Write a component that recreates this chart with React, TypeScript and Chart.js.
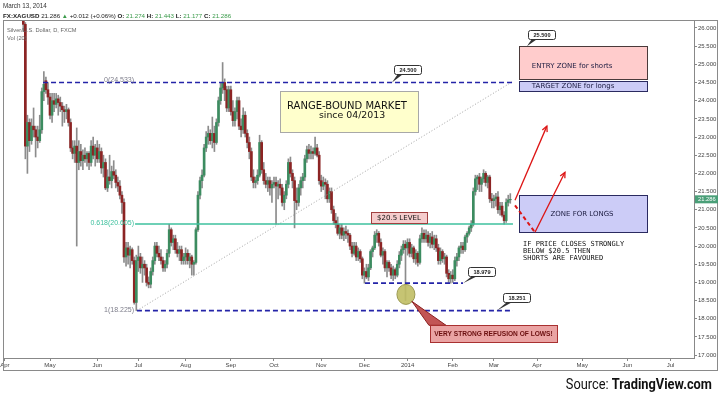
import React, { useEffect, useRef } from "react";
import { Chart, registerables } from "chart.js";

Chart.register(...registerables);

// ---- Daily OHLC, FX:XAGUSD (one entry per trading day, Apr 2013 - Mar 13 2014) ----
const opens = [
  28.30,28.10,27.85,27.20,27.45,27.40,27.50,27.60,27.35,27.10,
  26.10,22.75,23.40,22.90,23.30,23.20,23.00,22.90,23.20,24.25,
  24.55,24.30,24.10,23.60,24.00,23.90,24.05,23.95,23.85,23.75,
  23.70,23.75,23.40,22.70,22.55,22.75,22.30,22.60,22.35,22.50,
  22.40,22.55,22.30,22.75,22.50,22.70,22.40,22.60,22.15,22.30,
  21.60,21.90,21.80,22.05,21.95,21.75,21.65,21.40,21.20,19.70,
  19.95,19.75,19.90,19.60,18.45,19.60,19.70,19.40,19.50,19.40,
  19.00,18.95,19.30,19.60,20.00,
  19.80,19.70,19.60,19.40,
  19.50,19.80,20.45,20.10,20.20,19.90,19.80,19.90,19.60,19.70,
  19.80,19.60,19.70,19.50,19.55,20.45,21.40,21.80,21.95,22.70,
  23.00,23.10,22.90,23.10,22.85,23.40,24.00,24.35,24.50,24.30,
  23.80,24.30,23.70,23.45,23.70,24.00,23.30,23.20,23.60,23.10,
  22.85,22.60,21.90,21.75,21.80,21.95,22.85,22.10,21.80,21.70,
  21.80,21.60,21.70,21.75,21.65,21.70,21.60,21.20,21.40,21.70,
  22.30,22.00,21.80,21.25,21.20,21.60,21.80,21.90,22.40,22.65,
  22.55,22.60,22.55,22.70,22.50,21.80,21.65,
  21.75,21.70,
  21.30,21.50,21.00,20.70,20.60,20.35,20.50,20.30,20.40,20.35,
  20.30,20.00,19.80,20.00,19.70,19.85,19.65,19.20,19.30,19.15,
  19.40,19.85,19.95,20.30,20.35,20.10,19.75,19.85,19.40,19.55,
  19.40,19.20,19.35,19.20,19.50,19.75,19.90,20.05,19.95,20.10,
  19.80,19.95,19.65,19.80,19.55,20.20,20.35,20.20,20.30,20.10,
  20.25,20.05,20.20,19.95,19.60,19.85,19.65,19.70,19.25,19.10,
  19.20,19.10,19.60,19.70,19.95,20.00,19.90,20.25,20.35,20.50,
  20.60,21.50,
  21.85,21.90,21.70,21.85,22.00,21.75,21.90,
  21.30,21.25,21.30,21.35,21.00,21.10,20.85,20.70,21.20,21.274,
];
const highs = [
  28.45,28.25,27.95,27.55,27.85,27.65,27.80,27.85,27.45,27.20,
  26.15,23.60,23.50,23.50,23.80,23.30,23.30,23.60,24.35,24.80,
  24.65,24.50,24.20,24.20,24.20,24.20,24.15,24.10,23.95,23.85,
  23.90,23.80,23.50,22.90,22.90,23.25,22.90,22.80,22.65,22.70,
  22.60,22.60,22.90,23.00,22.80,22.90,22.80,22.70,22.50,22.40,
  22.10,22.50,22.20,22.35,22.10,21.90,21.80,21.50,21.30,20.10,
  20.10,20.00,19.95,19.70,19.75,20.00,19.80,19.70,19.60,19.50,
  19.15,19.40,19.70,20.10,20.10,
  20.00,19.90,19.70,19.60,
  19.90,20.60,20.50,20.30,20.30,20.10,20.00,20.00,19.80,19.95,
  19.90,19.80,19.75,19.60,20.50,21.50,21.90,22.10,22.80,23.15,
  23.30,23.20,23.55,23.30,23.50,24.10,24.50,25.05,24.60,24.40,
  24.40,24.40,24.00,23.80,24.10,24.10,23.50,23.80,23.70,23.20,
  23.00,22.70,22.10,21.90,22.10,23.05,22.90,22.30,22.00,21.90,
  21.90,21.80,21.90,21.90,21.80,21.85,21.70,21.50,21.80,22.40,
  22.45,22.10,21.90,21.60,21.70,21.90,22.00,22.50,22.75,22.80,
  22.75,22.70,23.00,22.80,22.60,21.95,21.90,
  21.85,21.80,
  21.60,21.60,21.10,20.90,20.80,20.60,20.60,20.50,20.55,20.45,
  20.35,20.10,20.10,20.10,19.95,19.90,19.70,19.40,19.50,19.50,
  19.90,20.00,20.40,20.45,20.40,20.20,19.95,19.90,19.60,19.60,
  19.50,19.45,19.40,19.60,19.85,20.00,20.15,20.15,20.20,20.20,
  20.05,20.00,19.90,19.85,20.30,20.50,20.45,20.45,20.40,20.35,
  20.40,20.30,20.30,20.05,19.95,19.90,19.80,19.75,19.35,19.30,
  19.35,19.70,19.80,20.00,20.10,20.10,20.30,20.40,20.55,20.70,
  21.60,21.95,
  21.95,22.00,21.90,22.10,22.05,21.95,21.95,
  21.45,21.40,21.45,21.50,21.20,21.20,20.95,21.30,21.40,21.443,
];
const lows = [
  27.95,27.70,27.10,26.90,26.95,27.20,27.30,27.20,26.90,25.90,
  22.40,22.00,22.60,22.80,23.00,22.45,22.70,22.85,23.10,24.00,
  24.20,23.90,23.50,23.40,23.70,23.80,23.60,23.70,23.30,23.40,
  23.50,23.30,22.60,22.40,22.30,20.00,22.10,22.20,22.10,22.30,
  22.20,22.10,22.20,22.40,22.20,22.30,22.30,22.00,21.90,21.55,
  21.50,21.70,21.60,21.85,21.60,21.50,21.30,20.90,19.55,19.45,
  19.50,19.40,19.50,18.40,18.225,19.30,19.25,19.00,19.20,18.90,
  18.85,18.85,19.20,19.50,19.70,
  19.60,19.50,19.30,19.30,
  19.40,19.70,20.00,19.90,19.80,19.70,19.60,19.50,19.50,19.50,
  19.50,19.40,19.20,19.20,19.50,20.40,21.30,21.60,21.90,22.60,
  22.80,22.80,22.70,22.60,22.80,23.30,23.90,24.20,24.00,23.70,
  23.70,23.60,23.30,23.30,23.50,23.20,23.00,23.10,23.00,22.70,
  22.40,21.80,21.60,21.60,21.70,21.90,22.00,21.70,21.60,21.50,
  21.40,21.20,21.60,20.60,21.30,21.40,21.10,21.00,21.30,21.60,
  21.90,21.60,20.50,21.00,21.10,21.40,21.60,21.80,22.30,22.40,
  22.40,22.40,22.50,22.45,21.70,21.50,21.55,
  21.30,21.20,
  21.20,20.90,20.60,20.50,20.30,20.20,20.20,20.15,20.20,20.10,
  19.90,19.70,19.75,19.60,19.60,19.55,19.10,18.979,19.10,19.05,
  19.35,19.70,19.90,20.10,20.00,19.70,19.50,19.30,19.15,19.30,
  19.10,19.05,19.10,19.15,19.40,19.60,19.80,18.50,19.75,19.70,
  19.70,19.55,19.50,19.45,19.50,20.10,20.10,20.10,20.00,19.95,
  19.95,19.90,19.85,19.50,19.50,19.55,19.50,19.15,19.00,18.979,
  19.00,19.05,19.45,19.60,19.80,19.80,19.85,20.10,20.30,20.40,
  20.55,21.40,
  21.55,21.50,21.50,21.75,21.65,21.60,21.20,
  21.05,21.05,21.10,20.90,20.85,20.80,20.60,20.65,21.10,21.177,
];
const closes = [
  28.10,27.85,27.20,27.45,27.40,27.50,27.60,27.35,27.10,26.10,
  22.75,23.40,22.90,23.30,23.20,23.00,22.90,23.20,24.25,24.45,
  24.30,24.10,23.60,24.00,23.90,24.05,23.95,23.85,23.75,23.70,
  23.75,23.40,22.70,22.55,22.75,22.30,22.60,22.35,22.50,22.40,
  22.55,22.30,22.75,22.50,22.70,22.40,22.60,22.15,22.30,21.60,
  21.90,21.80,22.05,21.95,21.75,21.65,21.40,21.20,19.70,19.95,
  19.75,19.90,19.60,18.45,19.60,19.70,19.40,19.50,19.40,19.00,
  18.95,19.30,19.60,20.00,19.80,
  19.70,19.60,19.40,19.50,
  19.80,20.45,20.10,20.20,19.90,19.80,19.90,19.60,19.70,19.80,
  19.60,19.70,19.50,19.55,20.45,21.40,21.80,21.95,22.70,23.00,
  23.10,22.90,23.10,22.85,23.40,24.00,24.35,24.50,24.30,23.80,
  24.30,23.70,23.45,23.70,24.00,23.30,23.20,23.60,23.10,22.85,
  22.60,21.90,21.75,21.80,21.95,22.85,22.10,21.80,21.70,21.80,
  21.60,21.70,21.75,21.65,21.70,21.60,21.20,21.40,21.70,22.30,
  22.00,21.80,21.25,21.20,21.60,21.80,21.90,22.40,22.65,22.55,
  22.60,22.55,22.70,22.50,21.80,21.65,21.75,
  21.70,21.30,
  21.50,21.00,20.70,20.60,20.35,20.50,20.30,20.40,20.35,20.30,
  20.00,19.80,20.00,19.70,19.85,19.65,19.20,19.30,19.15,19.40,
  19.85,19.95,20.30,20.35,20.10,19.75,19.85,19.40,19.55,19.40,
  19.20,19.35,19.20,19.50,19.75,19.90,20.05,19.95,20.10,19.80,
  19.95,19.65,19.80,19.55,20.20,20.35,20.20,20.30,20.10,20.25,
  20.05,20.20,19.95,19.60,19.85,19.65,19.70,19.25,19.10,19.20,
  19.10,19.60,19.70,19.95,20.00,19.90,20.25,20.35,20.50,20.60,
  21.50,21.85,
  21.90,21.70,21.85,22.00,21.75,21.90,21.30,
  21.25,21.30,21.35,21.00,21.10,20.85,20.70,21.20,21.27,21.286,
];

// ---- Axes ----
const monthTickIndex = [0, 22, 45, 65, 88, 110, 131, 154, 175, 196, 218, 238, 259, 281, 303, 324];
const monthTickLabels = ["Apr", "May", "Jun", "Jul", "Aug", "Sep", "Oct", "Nov", "Dec", "2014", "Feb", "Mar", "Apr", "May", "Jun", "Jul"];
const priceTicks = [17, 17.5, 18, 18.5, 19, 19.5, 20, 20.5, 21, 21.5, 22, 22.5, 23, 23.5, 24, 24.5, 25, 25.5, 26];

// ---- Drawn levels (price values) ----
const fibLevels = [24.533, 20.605, 18.225];
const fibRatios = ["0", "0.618", "1"];
const rangeTopLevel = 24.5;
const supportLevel = 18.979;
const entryZone = [25.5, 24.6];
const targetZone = [24.55, 24.27];
const longZone = [21.4, 20.38];

const callouts = [
  { text: "24.500", bx: 196, by: 24.87, ax: 188.4, ay: 24.5 },
  { text: "25.500", bx: 261.1, by: 25.83, ax: 254.1, ay: 25.5 },
  { text: "18.979", bx: 232.2, by: 19.31, ax: 223, ay: 18.979 },
  { text: "18.251", bx: 249, by: 18.58, ax: 239.5, ay: 18.225 },
];

const arrows = [
  { from: [248.3, 21.12], to: [258, 20.38], dashed: true },
  { from: [258, 20.38], to: [272.6, 22.03], dashed: false },
  { from: [248.3, 21.26], to: [263.8, 23.3], dashed: false },
];

const GREEN = "#3c8c60";
const RED = "#8c2424";
const WICK = "#8c8c8c";

const annotationPlugin = {
  id: "tvAnnotations",
  afterDatasetsDraw(chart: any) {
    const { ctx } = chart;
    const xs = chart.scales.x;
    const ys = chart.scales.y;
    const X = (v: number) => xs.getPixelForValue(v);
    const Y = (v: number) => ys.getPixelForValue(v);
    const seg = (x1: number, y1: number, x2: number, y2: number) => {
      ctx.beginPath();
      ctx.moveTo(x1, y1);
      ctx.lineTo(x2, y2);
      ctx.stroke();
    };
    const rect = (i1: number, v1: number, i2: number, v2: number, fill: string, stroke: string) => {
      const l = Math.round(X(i1)) + 0.5, r = Math.round(X(i2)) + 0.5;
      const t = Math.round(Y(v1)) + 0.5, b = Math.round(Y(v2)) + 0.5;
      ctx.fillStyle = fill;
      ctx.fillRect(l, t, r - l, b - t);
      ctx.strokeStyle = stroke;
      ctx.lineWidth = 1;
      ctx.strokeRect(l, t, r - l, b - t);
    };
    ctx.save();

    // Fibonacci diagonal
    ctx.strokeStyle = "#a0a0a0";
    ctx.lineWidth = 1;
    ctx.setLineDash([1, 2]);
    seg(X(64.3), Y(fibLevels[2]), X(247.3), Y(fibLevels[0]));
    ctx.setLineDash([]);

    // 0.618 level
    ctx.strokeStyle = "#3ec09e";
    ctx.lineWidth = 1.4;
    seg(X(63.4), Y(fibLevels[1]), X(247.3), Y(fibLevels[1]));

    // blue dashed levels
    ctx.strokeStyle = "#2424a8";
    ctx.lineWidth = 1.7;
    ctx.setLineDash([5, 3]);
    seg(X(18.6), Y(rangeTopLevel), X(247.3), Y(rangeTopLevel));
    seg(X(64.3), Y(fibLevels[2]), X(247.3), Y(fibLevels[2]));
    seg(X(175.3), Y(supportLevel), X(223), Y(supportLevel));
    ctx.setLineDash([]);

    // fib labels
    ctx.font = '7px "Liberation Sans"';
    ctx.textAlign = "right";
    ctx.textBaseline = "middle";
    fibLevels.forEach((lv, k) => {
      ctx.fillStyle = k === 1 ? "#3ec09e" : "#7d7d8a";
      ctx.fillText(`${fibRatios[k]}(${lv.toFixed(3)})`, X(62.9), Y(lv) - 1);
    });

    // zones
    rect(250.2, entryZone[0], 312.5, entryZone[1], "#ffcccc", "#4a3a3a");
    rect(250.2, targetZone[0], 312.5, targetZone[1], "#ccccf7", "#2a2a60");
    rect(250.2, longZone[0], 312.5, longZone[1], "#ccccf7", "#2a2a60");
    ctx.fillStyle = "#1c1c40";
    ctx.font = '7px "DejaVu Sans"';
    ctx.textAlign = "left";
    ctx.fillText("ENTRY ZONE for shorts", X(256.5), Y(24.95));
    ctx.fillText("TARGET ZONE for longs", X(256.5), Y(24.40));
    ctx.textAlign = "center";
    ctx.fillText("ZONE FOR LONGS", X(280.9), Y(20.88));

    // note text
    ctx.fillStyle = "#111";
    ctx.font = '7px "DejaVu Sans Mono"';
    ctx.textAlign = "left";
    ctx.fillText("IF PRICE CLOSES STRONGLY", X(252.2), Y(20.05));
    ctx.fillText("BELOW $20.5 THEN", X(252.2), Y(19.86));
    ctx.fillText("SHORTS ARE FAVOURED", X(252.2), Y(19.67));

    // red arrows
    ctx.strokeStyle = "#dd1515";
    arrows.forEach((a) => {
      const x1 = X(a.from[0]), y1 = Y(a.from[1]), x2 = X(a.to[0]), y2 = Y(a.to[1]);
      ctx.lineWidth = a.dashed ? 2 : 1.3;
      ctx.setLineDash(a.dashed ? [4, 3] : []);
      seg(x1, y1, x2, y2);
      ctx.setLineDash([]);
      if (!a.dashed) {
        const ang = Math.atan2(y2 - y1, x2 - x1);
        const s = 6;
        ctx.beginPath();
        ctx.moveTo(x2 - s * Math.cos(ang - 0.45), y2 - s * Math.sin(ang - 0.45));
        ctx.lineTo(x2, y2);
        ctx.lineTo(x2 - s * Math.cos(ang + 0.45), y2 - s * Math.sin(ang + 0.45));
        ctx.stroke();
      }
    });

    // range-bound box
    rect(133.9, 24.26, 201.1, 23.14, "#ffffcc", "#a8a8a8");
    ctx.fillStyle = "#111";
    ctx.textAlign = "center";
    ctx.font = '10px "DejaVu Sans"';
    ctx.fillText("RANGE-BOUND MARKET", X(166.5), Y(23.85));
    ctx.font = '9.4px "DejaVu Sans"';
    ctx.fillText("since 04/2013", X(169), Y(23.58));

    // $20.5 level box
    rect(178.2, 20.93, 205.4, 20.63, "#f5cccc", "#a04040");
    ctx.fillStyle = "#111";
    ctx.font = '7px "DejaVu Sans"';
    ctx.fillText("$20.5 LEVEL", X(191.8), Y(20.78) + 0.5);

    // callouts
    callouts.forEach((c) => {
      const cx = X(c.bx), cy = Y(c.by), ax = X(c.ax), ay = Y(c.ay);
      const w = 27, h = 9;
      const l = Math.round(cx - w / 2) + 0.5, t = Math.round(cy - h / 2) + 0.5;
      ctx.fillStyle = "#333";
      ctx.beginPath();
      ctx.moveTo(l + 3, t + h);
      ctx.lineTo(l + 8, t + h);
      ctx.lineTo(ax, ay);
      ctx.closePath();
      ctx.fill();
      ctx.beginPath();
      ctx.roundRect(l, t, w, h, 2);
      ctx.fillStyle = "#fff";
      ctx.fill();
      ctx.strokeStyle = "#333";
      ctx.lineWidth = 1;
      ctx.stroke();
      ctx.fillStyle = "#222";
      ctx.font = 'bold 5.6px "Liberation Sans"';
      ctx.textAlign = "center";
      ctx.fillText(c.text, l + w / 2, t + h / 2 + 0.5);
    });

    // ellipse on the wick
    ctx.beginPath();
    ctx.ellipse(X(195.2), Y(18.67), 9, 10, 0, 0, Math.PI * 2);
    ctx.fillStyle = "rgba(192,190,100,0.9)";
    ctx.fill();
    ctx.strokeStyle = "#9a9850";
    ctx.lineWidth = 1;
    ctx.stroke();

    // wedge + red callout
    ctx.beginPath();
    ctx.moveTo(X(198.1), Y(18.48));
    ctx.lineTo(X(206.4), Y(17.82));
    ctx.lineTo(X(214.7), Y(17.82));
    ctx.closePath();
    ctx.fillStyle = "#c25555";
    ctx.fill();
    ctx.strokeStyle = "#8a2020";
    ctx.stroke();
    rect(206.9, 17.82, 268.7, 17.35, "#eaa3a3", "#a83030");
    ctx.fillStyle = "#6a0e0e";
    ctx.font = 'bold 6.6px "Liberation Sans"';
    ctx.textAlign = "center";
    ctx.fillText("VERY STRONG REFUSION OF LOWS!", X(237.8), Y(17.585) + 0.5);

    ctx.restore();
  },
  afterDraw(chart: any) {
    const { ctx, chartArea } = chart;
    const ys = chart.scales.y;
    ctx.save();
    ctx.strokeStyle = "#8a8a8a";
    ctx.lineWidth = 1;
    ctx.strokeRect(chartArea.left + 0.5, chartArea.top + 0.5, chartArea.right - chartArea.left + 23, chartArea.bottom - chartArea.top + 12);
    const last = closes[closes.length - 1];
    const py = ys.getPixelForValue(last);
    ctx.fillStyle = "#4a9f78";
    ctx.fillRect(chartArea.right + 1, py - 4, 23, 8);
    ctx.fillStyle = "#fff";
    ctx.font = '5.8px "Liberation Sans"';
    ctx.textAlign = "left";
    ctx.textBaseline = "middle";
    ctx.fillText(last.toFixed(3), chartArea.right + 4, py + 0.5);
    ctx.restore();
  },
};

export default function App() {
  const ref = useRef<HTMLCanvasElement>(null);

  useEffect(() => {
    if (!ref.current) return;
    Chart.defaults.font.family = '"Liberation Sans", Arial, sans-serif';
    const wickData = lows.map((l, i) => ({ x: i, y: [l, highs[i]] }));
    const bodyData = opens.map((o, i) => ({ x: i, y: [o, closes[i]] }));
    const bodyColors = opens.map((o, i) => (closes[i] >= o ? GREEN : RED));
    const chart = new Chart(ref.current, {
      type: "bar",
      data: {
        datasets: [
          { label: "wick", data: wickData as any, backgroundColor: WICK, barThickness: 1, grouped: false, clip: 0, order: 2 } as any,
          { label: "body", data: bodyData as any, backgroundColor: bodyColors, barThickness: 2, grouped: false, clip: 0, order: 1 } as any,
        ],
      },
      options: {
        animation: false,
        responsive: false,
        layout: { padding: { left: 3, top: 20, right: 2, bottom: 27 } },
        plugins: { legend: { display: false }, tooltip: { enabled: false } },
        scales: {
          x: {
            type: "linear",
            min: -0.88,
            max: 335.4,
            offset: false,
            grid: { display: true, drawOnChartArea: false, offset: false, tickLength: 3, color: "#888" },
            border: { display: true, color: "#888" },
            ticks: {
              autoSkip: false,
              maxRotation: 0,
              minRotation: 0,
              padding: 1,
              color: "#444",
              font: { size: 6 },
              callback: (v: any) => {
                const k = monthTickIndex.indexOf(Number(v));
                return k >= 0 ? monthTickLabels[k] : "";
              },
            },
            afterBuildTicks: (s: any) => {
              s.ticks = monthTickIndex.map((v) => ({ value: v }));
            },
            afterFit: (s: any) => {
              s.height = 12;
              s.paddingLeft = 0;
              s.paddingRight = 0;
            },
          } as any,
          y: {
            type: "linear",
            position: "right",
            min: 16.92,
            max: 26.22,
            grid: { display: true, drawOnChartArea: false, tickLength: 3, color: "#888" },
            border: { display: true, color: "#888" },
            ticks: {
              padding: 1,
              color: "#444",
              font: { size: 6 },
              callback: (v: any) => Number(v).toFixed(3),
            },
            afterBuildTicks: (s: any) => {
              s.ticks = priceTicks.map((v) => ({ value: v }));
            },
            afterFit: (s: any) => {
              s.width = 24;
              s.paddingTop = 0;
              s.paddingBottom = 0;
            },
          } as any,
        },
      },
      plugins: [annotationPlugin as any],
    });
    return () => chart.destroy();
  }, []);

  const green = "#3a9a4a";
  return (
    <div style={{ position: "absolute", left: 0, top: 0, width: 720, height: 397, background: "#fff", overflow: "hidden" }}>
      <canvas ref={ref} width={720} height={397} style={{ position: "absolute", left: 0, top: 0, width: 720, height: 397 }} />
      <div style={{ position: "absolute", left: 3, top: 2, font: '6.3px "Liberation Sans"', lineHeight: "7px", color: "#333", whiteSpace: "nowrap" }}>
        March 13, 2014
      </div>
      <div style={{ position: "absolute", left: 3, top: 11.5, font: '6.2px "Liberation Sans"', lineHeight: "7px", color: "#222", whiteSpace: "nowrap" }}>
        <b>FX:XAGUSD</b> 21.286 <span style={{ color: green }}>▲</span> +0.012 (+0.06%) <b>O:</b> <span style={{ color: green }}>21.274</span>{" "}
        <b>H:</b> <span style={{ color: green }}>21.443</span> <b>L:</b> <span style={{ color: green }}>21.177</span> <b>C:</b>{" "}
        <span style={{ color: green }}>21.286</span>
      </div>
      <div style={{ position: "absolute", left: 7, top: 27, font: '5.7px "Liberation Sans"', lineHeight: "7px", color: "#666", whiteSpace: "nowrap" }}>
        Silver/U.S. Dollar, D, FXCM
      </div>
      <div style={{ position: "absolute", left: 7, top: 35, font: '5.7px "Liberation Sans"', lineHeight: "7px", color: "#666", whiteSpace: "nowrap" }}>
        Vol (20)
      </div>
      <div
        style={{
          position: "absolute",
          right: 8,
          top: 375,
          font: '15px Roboto',
          lineHeight: "18px",
          color: "#111",
          whiteSpace: "nowrap",
          transform: "scaleX(0.855)",
          transformOrigin: "right center",
        }}
      >
        Source: <span style={{ fontWeight: 700 }}>TradingView.com</span>
      </div>
    </div>
  );
}
